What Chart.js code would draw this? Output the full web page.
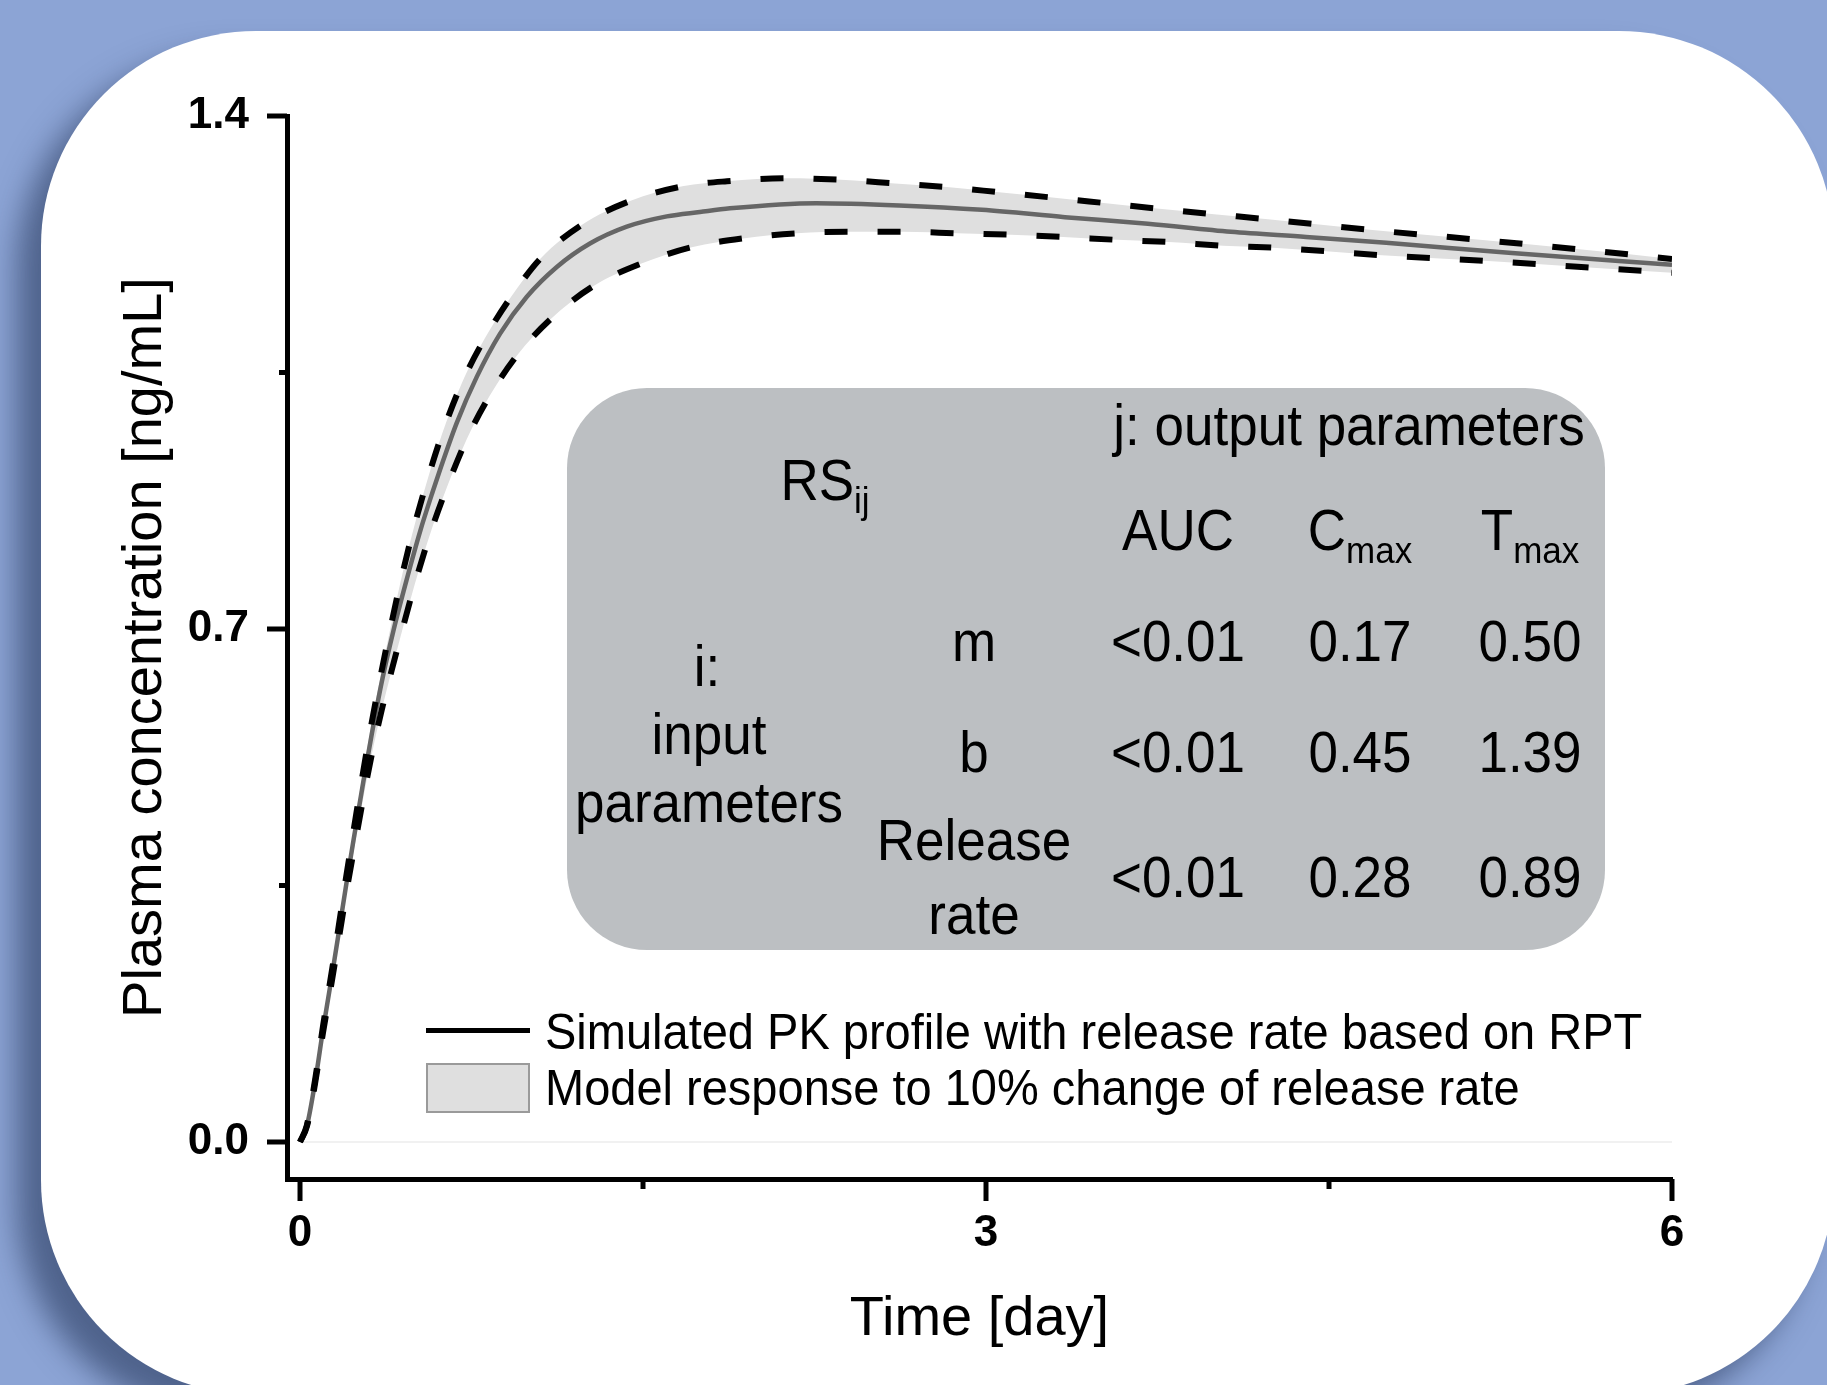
<!DOCTYPE html>
<html>
<head>
<meta charset="utf-8">
<script src="https://cdn.jsdelivr.net/npm/chart.js@4.4.0/dist/chart.umd.min.js"></script>
<style>
  html, body { margin: 0; padding: 0; }
  body {
    width: 1827px; height: 1385px; overflow: hidden; position: relative;
    background: #8ca4d5;
    font-family: "Liberation Sans", Arial, sans-serif;
  }
  #card {
    position: absolute; left: 41px; top: 31px; width: 1793px; height: 1364px;
    background: #fff; border-radius: 215px;
    box-shadow: -24px 24px 30px rgba(30, 45, 80, 0.55);
  }
  #chart { position: absolute; left: 0; top: 0; }
  #table {
    position: absolute; left: 567px; top: 388px; width: 1038px; height: 562px;
    background: #bcbfc2; border-radius: 80px;
  }
  .t {
    position: absolute; line-height: 1; white-space: nowrap; color: #000;
    transform: translate(-50%, -50%) scaleY(1.07);
  }
  .tab { font-size: 53px; }
  .leg { font-size: 47px; transform: translate(0, -50%) scaleY(1.07); }
  sub { font-size: 35px; position: relative; top: 12px; vertical-align: baseline; }
  #swLine { position: absolute; left: 426px; top: 1028px; width: 104px; height: 5px; background: #000; }
  #swBox {
    position: absolute; left: 426px; top: 1063px; width: 104px; height: 50px; box-sizing: border-box;
    background: #dfdfdf; border: 2px solid #9a9a9a;
  }
</style>
</head>
<body>
<div id="card"></div>
<canvas id="chart" width="1827" height="1385"></canvas>
<div id="table"></div>
<div id="swLine"></div>
<div id="swBox"></div>

<script>
// simulated PK profile (day, ng/mL)
const timeMain = [0, 0.03, 0.066, 0.101, 0.139, 0.17, 0.204, 0.241, 0.276, 0.314, 0.357, 0.408, 0.467, 0.525, 0.583, 0.612, 0.685, 0.773, 0.875, 0.991, 1.123, 1.268, 1.429, 1.604, 1.749, 1.88, 2.257, 2.62, 2.982, 3.345, 3.708, 4.071, 4.4, 4.75, 5.3, 6.0];
const concMain = [0, 0.022, 0.082, 0.154, 0.226, 0.287, 0.355, 0.425, 0.49, 0.557, 0.627, 0.697, 0.768, 0.833, 0.89, 0.917, 0.981, 1.044, 1.103, 1.153, 1.194, 1.226, 1.249, 1.263, 1.269, 1.274, 1.281, 1.278, 1.272, 1.262, 1.253, 1.242, 1.235, 1.227, 1.213, 1.197];

// +10% / -10% release rate bounds
const timeUpper = [0, 0.03, 0.066, 0.101, 0.139, 0.17, 0.204, 0.241, 0.276, 0.314, 0.357, 0.394, 0.433, 0.491, 0.554, 0.62, 0.707, 0.809, 0.918, 1.053, 1.235, 1.443, 1.672, 1.867, 2.13, 2.366, 2.602, 2.829, 3.057, 3.28, 3.525, 3.77, 3.997, 4.233, 4.701, 5.16, 5.628, 6.0];
const concUpper = [0, 0.023, 0.085, 0.159, 0.233, 0.296, 0.366, 0.438, 0.505, 0.573, 0.643, 0.699, 0.755, 0.83, 0.9, 0.965, 1.035, 1.097, 1.151, 1.206, 1.252, 1.284, 1.304, 1.311, 1.315, 1.313, 1.308, 1.303, 1.296, 1.289, 1.281, 1.273, 1.266, 1.259, 1.244, 1.231, 1.217, 1.205];

const timeLower = [0, 0.03, 0.066, 0.101, 0.139, 0.17, 0.204, 0.241, 0.276, 0.314, 0.357, 0.445, 0.499, 0.564, 0.642, 0.729, 0.827, 0.948, 1.093, 1.278, 1.487, 1.713, 1.937, 2.173, 2.401, 2.637, 2.873, 3.109, 3.337, 3.573, 3.8, 4.036, 4.273, 4.732, 5.195, 5.654, 6.0];
const concLower = [0, 0.021, 0.08, 0.15, 0.219, 0.278, 0.343, 0.408, 0.468, 0.529, 0.589, 0.696, 0.758, 0.825, 0.893, 0.959, 1.017, 1.073, 1.122, 1.167, 1.198, 1.221, 1.233, 1.24, 1.242, 1.242, 1.24, 1.238, 1.235, 1.231, 1.228, 1.223, 1.22, 1.21, 1.202, 1.193, 1.186];

const xTicks = [0, 1.5, 3, 4.5, 6];
const xMajor = [0, 3, 6];
const yTicks = [0, 0.35, 0.7, 1.05, 1.4];
const yMajor = [0, 0.7, 1.4];

const legendLabels = [
  "Simulated PK profile with release rate based on RPT",
  "Model response to 10% change of release rate"
];

// RS_ij table
const outputParams = ["AUC", "C<sub>max</sub>", "T<sub>max</sub>"];
const inputParams = ["m", "b", "Release<br>rate"];
const rsValues = [
  ["<0.01", "0.17", "0.50"],
  ["<0.01", "0.45", "1.39"],
  ["<0.01", "0.28", "0.89"]
];

const FONT = "'Liberation Sans', Arial, sans-serif";

function pts(xs, ys) {
  return xs.map((x, i) => ({ x: x, y: ys[i] }));
}

function addText(html, x, y, cls) {
  const d = document.createElement("div");
  d.className = "t " + cls;
  d.innerHTML = html;
  d.style.left = x + "px";
  d.style.top = y + "px";
  document.body.appendChild(d);
  return d;
}

// table
const colX = [1178, 1360, 1530];
const rowY = [641, 752, 877];
addText("j: output parameters", 1349, 425, "tab");
addText("RS<sub>ij</sub>", 825, 480, "tab");
outputParams.forEach((p, j) => addText(p, colX[j], 530, "tab"));
inputParams.forEach((p, i) => {
  const el = addText(p, 974, rowY[i], "tab");
  el.style.textAlign = "center";
  if (p.includes("<br>")) el.style.lineHeight = "69px";
  rsValues[i].forEach((v, j) => addText(v.replace("<", "&lt;"), colX[j], rowY[i], "tab"));
});
addText("i:", 707, 666, "tab");
addText("input", 709, 734, "tab");
addText("parameters", 709, 802, "tab");

// legend
addText(legendLabels[0], 545, 1031, "leg");
addText(legendLabels[1], 545, 1087, "leg");

const tickMarks = {
  id: "tickMarks",
  afterDraw(chart) {
    const { ctx, chartArea } = chart;
    const x = chart.scales.x, y = chart.scales.y;
    ctx.save();
    ctx.strokeStyle = "#000";
    ctx.lineWidth = 5;
    xTicks.forEach(v => {
      const px = x.getPixelForValue(v);
      const len = xMajor.includes(v) ? 20 : 8;
      ctx.beginPath();
      ctx.moveTo(px, chartArea.bottom);
      ctx.lineTo(px, chartArea.bottom + 2 + len);
      ctx.stroke();
    });
    yTicks.forEach(v => {
      const py = y.getPixelForValue(v);
      const len = yMajor.includes(v) ? 20 : 8;
      ctx.beginPath();
      ctx.moveTo(chartArea.left, py);
      ctx.lineTo(chartArea.left - len, py);
      ctx.stroke();
    });
    ctx.restore();
  }
};

new Chart(document.getElementById("chart"), {
  type: "line",
  data: {
    datasets: [
      {
        label: "upper",
        data: pts(timeUpper, concUpper),
        borderColor: "#000",
        borderWidth: 6,
        borderDash: [23, 30],
        backgroundColor: "#dfdfdf",
        fill: 1,
        pointRadius: 0,
        cubicInterpolationMode: "monotone"
      },
      {
        label: "lower",
        data: pts(timeLower, concLower),
        borderColor: "#000",
        borderWidth: 6,
        borderDash: [23, 30],
        fill: false,
        pointRadius: 0,
        cubicInterpolationMode: "monotone"
      },
      {
        label: legendLabels[0],
        data: pts(timeMain, concMain),
        borderColor: "#666",
        borderWidth: 4.5,
        fill: false,
        pointRadius: 0,
        cubicInterpolationMode: "monotone"
      },
      {
        label: "zero",
        data: [{ x: 0, y: 0 }, { x: 6, y: 0 }],
        borderColor: "#ededed",
        borderWidth: 1.5,
        fill: false,
        pointRadius: 0
      }
    ]
  },
  options: {
    responsive: false,
    animation: false,
    layout: { padding: { left: 112, top: 116, right: 155, bottom: 0 } },
    plugins: {
      legend: { display: false },
      tooltip: { enabled: false },
      filler: { drawTime: "beforeDatasetsDraw" }
    },
    scales: {
      x: {
        type: "linear",
        min: -0.0569,
        max: 6,
        afterBuildTicks: s => { s.ticks = xTicks.map(v => ({ value: v })); },
        afterFit: s => { s.height = 206; },
        ticks: {
          autoSkip: false,
          maxRotation: 0,
          padding: 9,
          color: "#000",
          font: { family: FONT, size: 44, weight: "bold" },
          callback: v => xMajor.includes(v) ? String(v) : ""
        },
        grid: { drawOnChartArea: false, drawTicks: true, tickLength: 19, tickColor: "rgba(0,0,0,0)" },
        border: { display: true, color: "#000", width: 5 },
        title: {
          display: true,
          text: "Time [day]",
          color: "#000",
          font: { family: FONT, size: 56 },
          padding: { top: 0, bottom: 32 }
        }
      },
      y: {
        min: -0.0505,
        max: 1.4,
        afterBuildTicks: s => { s.ticks = yTicks.map(v => ({ value: v })); },
        afterFit: s => { s.width = 175; },
        ticks: {
          padding: 19,
          color: "#000",
          font: { family: FONT, size: 44, weight: "bold" },
          callback: v => yMajor.includes(v) ? v.toFixed(1) : ""
        },
        grid: { drawOnChartArea: false, drawTicks: true, tickLength: 19, tickColor: "rgba(0,0,0,0)" },
        border: { display: true, color: "#000", width: 5 },
        title: {
          display: true,
          text: "Plasma concentration [ng/mL]",
          color: "#000",
          font: { family: FONT, size: 56 },
          padding: { top: 0, bottom: 0 }
        }
      }
    }
  },
  plugins: [tickMarks]
});
</script>
</body>
</html>
